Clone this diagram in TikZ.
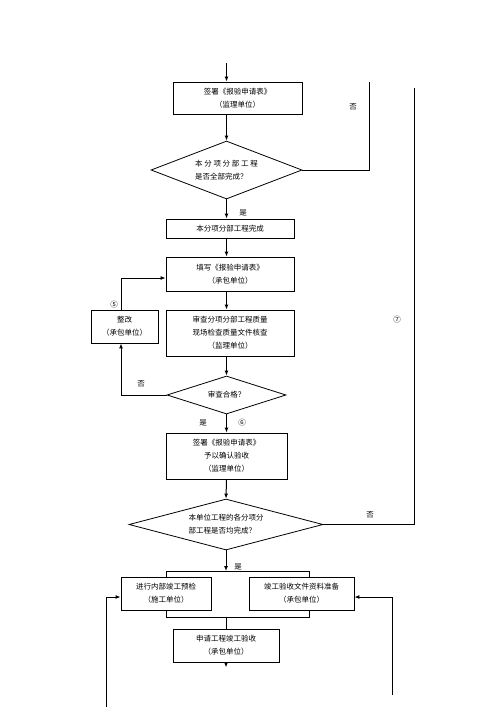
\documentclass[tikz,border=0pt]{standalone}
\usepackage{fontspec}
\newfontfamily\cjk{Noto Sans CJK SC}
\usepackage{tikz}
\usetikzlibrary{shapes.geometric,arrows.meta}

\begin{document}
\begin{tikzpicture}[x=1pt,y=-1pt,
	txt/.style={font=\cjk\fontsize{7.5}{13}\selectfont},
	box/.style={txt,draw,line width=0.8pt,align=center,inner sep=0pt},
	dia/.style={txt,draw,line width=0.8pt,shape=diamond,aspect=2.6,inner sep=0pt,align=left},
	lab/.style={txt,inner sep=0pt},
	arr/.style={line width=1pt,-{Latex[length=5pt,width=4pt]}},
	ln/.style={line width=0.8pt}]
	\useasboundingbox (0,0) rectangle (500,707);
	\node[box,minimum width=129,minimum height=32] (sign) at (237.5,98) {签署《报验申请表》\\（监理单位）};
	\node[dia,minimum width=151,minimum height=58] (chk1) at (226.5,170) {本 分 项 分 部 工 程\\是否全部完成？};
	\node[box,minimum width=128,minimum height=19] (done) at (230,228.5) {本分项分部工程完成};
	\node[box,minimum width=128,minimum height=34] (fill) at (230,274) {填写《报验申请表》\\（承包单位）};
	\node[box,minimum width=128,minimum height=46] (rev) at (230,333) {审查分项分部工程质量\\现场检查质量文件核查\\（监理单位）};
	\node[box,minimum width=67,minimum height=33] (fix) at (124.5,326.5) {整改\\（承包单位）};
	\node[dia,minimum width=119,minimum height=38,align=center] (chk2) at (226.5,395) {审查合格？};
	\node[box,minimum width=121,minimum height=46] (acc) at (226.5,456) {签署《报验申请表》\\予以确认验收\\（监理单位）};
	\node[dia,minimum width=194,minimum height=51] (chk3) at (226,524.5) {本单位工程的各分项分\\部工程是否均完成？};
	\node[box,minimum width=90,minimum height=33] (pre) at (166,593.5) {进行内部竣工预检\\（施工单位）};
	\node[box,minimum width=105,minimum height=33] (docs) at (301.5,593.5) {竣工验收文件资料准备\\（承包单位）};
	\node[box,minimum width=106,minimum height=33] (apply) at (226,645.5) {申请工程竣工验收\\（承包单位）};
	
	\coordinate (top) at (226.5,63);
	\coordinate (no1) at (369,82);
	\coordinate (no2) at (414,88);
	\coordinate (loop) at (121,326);
	\coordinate (split) at (226,571);
	\coordinate (jr) at (309,571);
	\coordinate (jb) at (226,617);
	\coordinate (inl) at (106,707);
	\coordinate (inr) at (392,695);
	
	\draw[arr] (top) -- (top |- sign.north);
	\draw[arr] (sign.south -| chk1.north) -- (chk1.north);
	\draw[ln] (chk1.east) -| (no1);
	\draw[arr] (chk1.south) -- (chk1.south |- done.north);
	\draw[arr] (done.south -| chk1.south) -- (fill.north -| chk1.south);
	\draw[arr] (fill.south -| chk1.south) -- (rev.north -| chk1.south);
	\draw[arr] (rev.south -| chk1.south) -- (chk2.north);
	\draw[arr] (chk2.west) -| (loop |- fix.south);
	\draw[arr] (loop |- fix.north) |- ([yshift=-4pt]fill.west);
	\draw[arr] (chk2.south) -- (acc.north -| chk2.south);
	\draw[arr] (acc.south) -- (chk3.north);
	\draw[ln] (chk3.east) -| (no2);
	\draw[arr] (chk3.south) -- (split);
	\draw[ln] (pre.north) |- (jr) -- (jr |- docs.north);
	\draw[ln] (pre.south) |- (jr |- jb) -- (jr |- docs.south);
	\draw[ln] (jb) -- (apply.north);
	\draw[arr] (apply.south) -- ++(0,5);
	\draw[arr] (inl) |- ([yshift=-3.5pt]pre.west);
	\draw[arr] (inr) |- ([yshift=-3.5pt]docs.east);
	
	\node[lab] (n1) at (353,107) {否};
	\node[lab] (y1) at (243,213) {是};
	\node[lab] (c5) at (114,305) {⑤};
	\node[lab] (n2) at (141,384) {否};
	\node[lab] (y2) at (203,423) {是};
	\node[lab] (c6) at (242,423) {⑥};
	\node[lab] (c7) at (397,320) {⑦};
	\node[lab] (n3) at (370,515) {否};
	\node[lab] (y3) at (238,567) {是};
\end{tikzpicture}
\end{document}
